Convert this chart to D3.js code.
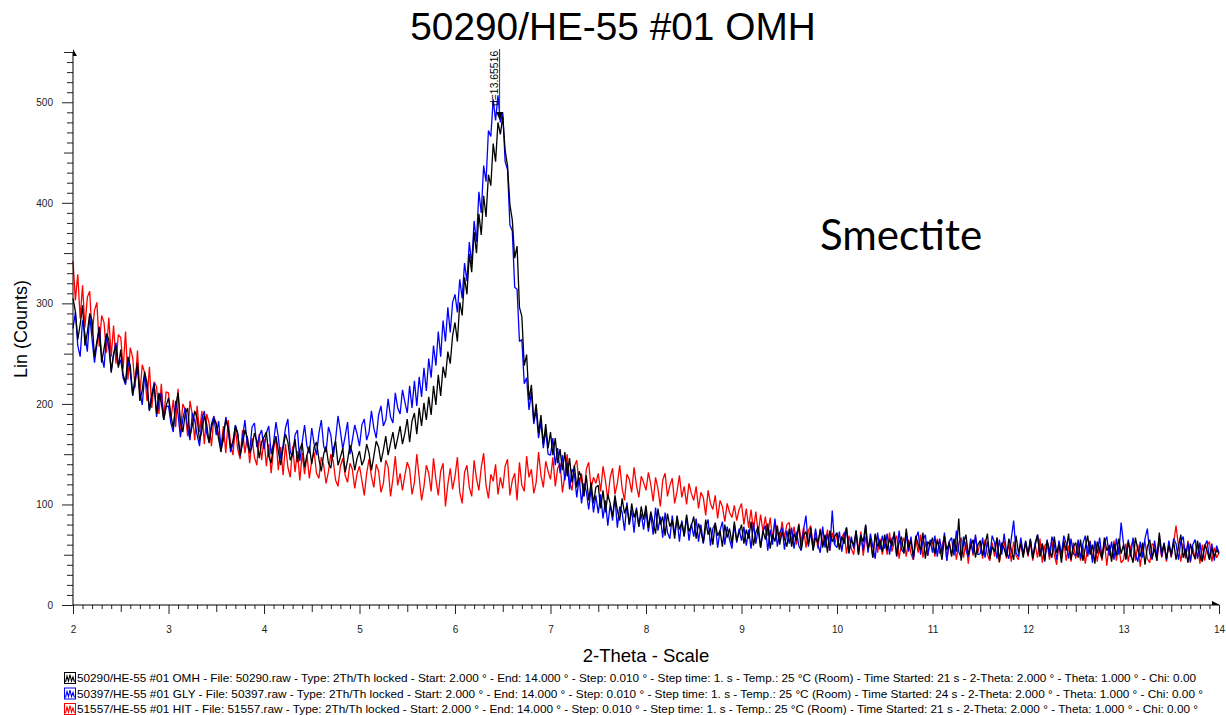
<!DOCTYPE html>
<html><head><meta charset="utf-8">
<script src="https://cdn.jsdelivr.net/npm/d3@7"></script>
<style>body{margin:0;background:#fff}svg{display:block}</style>
</head><body><svg id="c" width="1226" height="715"></svg>
<script>
const chartTitle = "50290/HE-55 #01 OMH";
const xAxisTitle = "2-Theta - Scale";
const yAxisTitle = "Lin (Counts)";
const annotationText = "Smectite";
const xStart = 2, xStep = 0.025;
const seriesColors = ["#000000", "#0000ff", "#ff0000"];

const blackOMH = [
305,292,264,279,298,258,271,290,283,247,262,276,241,255,270,264,231,249,258,236,
254,229,221,247,238,209,226,241,203,214,232,221,193,207,219,190,211,201,184,198,
206,189,176,198,211,183,172,190,196,168,179,193,186,163,174,188,180,161,177,185,
180,165,152,171,184,176,156,163,178,170,149,160,174,167,151,158,171,163,146,162,
167,172,148,141,159,168,153,139,156,170,162,144,150,165,142,155,161,137,149,158,
140,157,162,145,133,150,158,141,136,155,163,139,147,156,132,144,159,151,134,146,
153,139,145,160,151,134,148,163,157,142,154,168,149,161,172,155,166,178,160,171,
185,162,183,191,170,196,178,201,184,207,189,218,199,229,208,237,226,252,240,268,
281,262,301,288,326,309,349,331,371,350,389,368,407,386,428,417,459,441,480,468,
486,452,437,398,383,345,357,296,287,238,249,204,219,183,200,171,189,160,180,156,
172,149,166,141,155,134,152,128,146,122,139,117,133,126,108,129,104,122,101,117,
119,96,114,92,110,101,88,109,94,84,106,91,99,80,101,87,95,78,98,85,
99,77,93,82,71,96,80,88,69,91,78,84,66,89,75,82,68,90,73,79,
88,66,81,73,62,85,70,77,60,82,69,74,58,80,67,76,61,83,64,72,
80,61,75,66,83,59,72,78,57,74,65,81,56,70,63,79,60,73,66,58,
76,58,71,64,80,55,69,73,60,77,54,67,62,75,57,70,52,74,63,68,
72,55,68,61,77,52,65,59,74,50,69,63,80,56,66,47,71,58,64,53,
70,54,66,58,73,49,62,68,51,76,57,64,48,69,60,55,72,46,63,59,
67,51,64,57,45,69,55,62,48,66,53,86,44,61,70,50,58,65,47,60,
64,49,60,71,46,58,53,67,43,62,56,48,66,55,45,69,52,61,47,63,
50,65,46,59,70,48,61,44,64,55,47,68,52,60,42,63,54,71,45,58,
62,47,65,44,57,69,50,60,41,63,53,46,67,54,59,43,61,49,66,51,
60,45,63,51,42,67,55,48,62,40,58,65,47,56,44,72,52,61,46,59,
50,63,45,58,70,47,56,42,61,52,46,64,49,43,60,54,45,57,48,55,
51];

const blueGLY = [
275,291,258,247,283,270,252,288,264,241,259,277,248,236,268,256,233,250,261,238,
244,226,219,243,231,208,222,236,212,199,228,216,194,210,221,187,203,211,184,197,
198,181,172,203,190,167,185,196,176,164,191,183,169,158,184,193,171,162,180,188,
169,183,155,164,187,176,152,160,179,171,148,166,184,159,153,177,181,157,168,174,
155,171,178,150,161,182,167,145,159,176,185,152,148,169,174,143,162,179,158,151,
176,160,149,171,184,158,152,177,169,147,165,188,173,155,168,182,150,164,179,170,
158,179,185,164,172,193,176,166,189,198,178,184,205,187,181,211,196,190,214,202,
191,218,196,223,198,227,207,236,213,245,226,258,238,272,247,283,262,296,271,301,
309,291,324,305,340,322,361,339,382,361,411,390,437,421,472,466,503,482,507,480,
490,441,433,378,372,316,314,262,264,220,226,194,212,180,194,166,182,156,174,150,
149,166,139,156,131,149,124,142,115,135,130,107,127,101,121,113,95,116,92,109,
91,110,86,104,79,100,84,107,77,98,92,74,102,80,95,72,97,78,91,75,
94,73,90,70,97,74,88,67,92,72,66,89,70,86,63,84,69,88,64,81,
68,86,63,80,61,77,85,59,76,81,57,74,83,60,78,65,56,80,62,76,
64,78,59,75,56,82,61,76,57,73,79,54,75,60,86,58,72,77,55,74,
61,77,56,73,59,54,75,89,58,72,55,76,60,52,78,57,71,54,94,60,
57,73,53,70,77,51,68,56,74,50,70,54,79,52,71,58,46,72,55,69,
56,71,50,66,69,48,74,55,52,70,53,68,45,66,73,50,64,70,49,65,
52,69,48,66,51,72,44,63,67,49,74,53,47,68,55,48,66,51,70,50,
51,67,47,63,49,69,62,46,65,50,71,53,46,66,84,52,48,67,50,64,
50,66,47,62,70,49,61,43,65,48,68,60,45,64,50,69,61,46,66,51,
49,65,46,61,69,48,63,42,64,51,67,47,62,68,49,63,45,66,50,82,
61,46,65,48,67,50,43,63,47,66,76,51,45,64,49,68,48,62,45,64,
48,66,61,45,63,68,47,62,43,60,65,46,62,44,59,64,46,61,44,59,
52];

const redHIT = [
342,303,329,285,318,276,306,312,268,293,301,257,288,281,251,286,247,278,240,269,
266,235,272,224,256,246,216,253,210,239,231,203,237,196,222,217,190,220,186,212,
211,184,204,177,215,173,200,194,168,203,189,164,198,172,193,160,190,181,158,187,
181,169,158,178,151,184,160,149,176,155,145,174,151,168,141,166,147,139,170,144,
165,138,160,131,155,166,134,157,129,160,137,127,158,132,153,124,151,130,149,126,
144,152,131,126,147,139,121,133,150,143,124,118,138,146,129,122,141,135,116,131,
138,124,109,131,145,128,117,140,133,112,121,144,137,108,126,148,119,131,114,129,
142,135,110,122,150,127,104,118,139,131,113,146,125,109,133,141,98,120,136,115,
128,147,112,101,132,139,117,108,144,126,114,137,151,119,106,130,123,140,110,127,
116,138,145,109,124,131,104,142,119,113,148,127,135,111,122,152,129,117,143,133,
125,147,118,136,141,112,129,150,123,114,138,144,119,131,108,135,142,116,127,121,
131,113,138,124,105,127,136,110,121,139,116,104,130,125,112,137,119,107,128,122,
114,132,120,103,127,116,98,124,131,108,119,126,101,113,129,107,118,100,121,111,
104,118,96,112,107,89,114,101,95,109,86,104,98,83,101,92,87,99,84,95,
101,80,96,77,95,74,93,71,90,73,88,69,87,66,84,72,64,83,67,80,
82,63,78,60,81,62,77,57,74,79,58,73,56,76,61,59,75,54,72,60,
70,57,67,72,51,69,56,50,71,54,73,49,68,55,64,47,70,52,66,50,
66,50,72,53,63,69,46,61,67,48,65,51,45,66,52,70,47,63,49,62,
62,48,66,51,59,68,44,63,50,65,45,61,67,47,63,41,64,49,68,52,
63,46,65,50,44,62,48,67,42,60,64,46,61,43,63,49,45,64,50,61,
48,63,44,60,47,66,42,59,62,45,64,50,40,61,46,65,44,59,43,62,
46,62,44,59,41,58,64,45,61,43,59,44,63,39,60,47,64,44,58,42,
45,61,43,58,64,44,60,38,57,63,46,42,61,59,44,65,47,60,43,62,
47,62,79,59,43,61,46,64,42,58,45,61,41,60,44,59,63,43,57,47,
52];

const yTickValues = [0, 100, 200, 300, 400, 500];
const xTickValues = [2, 3, 4, 5, 6, 7, 8, 9, 10, 11, 12, 13, 14];
const peakTwoTheta = 6.467;
const peakLabel = "d=13.65516";
const legendLabels = [
"50290/HE-55 #01 OMH - File: 50290.raw - Type: 2Th/Th locked - Start: 2.000 ° - End: 14.000 ° - Step: 0.010 ° - Step time: 1. s - Temp.: 25 °C (Room) - Time Started: 21 s - 2-Theta: 2.000 ° - Theta: 1.000 ° - Chi: 0.00",
"50397/HE-55 #01 GLY - File: 50397.raw - Type: 2Th/Th locked - Start: 2.000 ° - End: 14.000 ° - Step: 0.010 ° - Step time: 1. s - Temp.: 25 °C (Room) - Time Started: 24 s - 2-Theta: 2.000 ° - Theta: 1.000 ° - Chi: 0.00 °",
"51557/HE-55 #01 HIT - File: 51557.raw - Type: 2Th/Th locked - Start: 2.000 ° - End: 14.000 ° - Step: 0.010 ° - Step time: 1. s - Temp.: 25 °C (Room) - Time Started: 21 s - 2-Theta: 2.000 ° - Theta: 1.000 ° - Chi: 0.00 °"
];
const legendTextWidths = [1119, 1126, 1121];

const FONT = "'Liberation Sans', Arial, sans-serif";
const svg = d3.select("#c");
const x = d3.scaleLinear().domain([2, 14]).range([73, 1219]);
const y = d3.scaleLinear().domain([0, 550]).range([605, 52]);

// title
svg.append("text").attr("x", 613).attr("y", 40).attr("text-anchor", "middle")
  .attr("font-family", FONT).attr("font-size", 38.8).attr("fill", "#000").text(chartTitle);

// series
const line = d3.line().x((d, i) => x(xStart + i * xStep)).y(d => y(d));
const drawOrder = [[redHIT, seriesColors[2]], [blueGLY, seriesColors[1]], [blackOMH, seriesColors[0]]];
drawOrder.forEach(([vals, col]) => {
  svg.append("path").datum(vals).attr("d", line).attr("fill", "none")
    .attr("stroke", col).attr("stroke-width", 1.3).attr("stroke-linejoin", "bevel");
});

// y axis
function styleAxis(g) {
  g.selectAll(".tick line").attr("stroke", "#222");
  g.select(".domain").remove();
  g.selectAll("text").attr("font-family", FONT).attr("font-size", 10).attr("fill", "#222");
}
const yMinor = d3.range(0, 551, 10).filter(v => v % 50 !== 0);
const yMid = d3.range(50, 551, 100);
svg.append("g").attr("transform", "translate(73,0)")
  .call(d3.axisLeft(y).tickValues(yMinor).tickSize(6).tickFormat("")).call(styleAxis);
svg.append("g").attr("transform", "translate(73,0)")
  .call(d3.axisLeft(y).tickValues(yMid).tickSize(9).tickFormat("")).call(styleAxis);
svg.append("g").attr("transform", "translate(73,0)")
  .call(d3.axisLeft(y).tickValues(yTickValues).tickSize(11).tickPadding(9).tickFormat(d3.format("d"))).call(styleAxis);

// x axis
const xMinor = d3.range(20, 141, 1).filter(v => v % 5 !== 0).map(v => v / 10);
const xMid = d3.range(25, 140, 10).map(v => v / 10);
svg.append("g").attr("transform", "translate(0,605)")
  .call(d3.axisBottom(x).tickValues(xMinor).tickSize(4).tickFormat("")).call(styleAxis);
svg.append("g").attr("transform", "translate(0,605)")
  .call(d3.axisBottom(x).tickValues(xMid).tickSize(7).tickFormat("")).call(styleAxis);
svg.append("g").attr("transform", "translate(0,605)")
  .call(d3.axisBottom(x).tickValues(xTickValues).tickSize(9).tickPadding(12).tickFormat(d3.format("d"))).call(styleAxis);

// axis lines + arrows
svg.append("line").attr("x1", x(2)).attr("x2", x(2)).attr("y1", y(0)).attr("y2", y(550)).attr("stroke", "#000");
svg.append("line").attr("x1", x(2)).attr("x2", x(14)).attr("y1", y(0)).attr("y2", y(0)).attr("stroke", "#000");
svg.append("path").attr("d", `M${x(2)},${y(550)-3} L${x(2)+4},${y(550)+4} L${x(2)},${y(550)+4}Z`).attr("fill", "#000");
svg.append("path").attr("d", `M${x(14)-7},${y(0)-4} L${x(14)+1},${y(0)} L${x(14)-7},${y(0)}Z`).attr("fill", "#000");

// axis titles
svg.append("text").attr("x", 646).attr("y", 662).attr("text-anchor", "middle")
  .attr("font-family", FONT).attr("font-size", 18.5).attr("fill", "#000").text(xAxisTitle);
svg.append("text").attr("transform", "translate(27,329) rotate(-90)").attr("text-anchor", "middle")
  .attr("font-family", FONT).attr("font-size", 18).attr("fill", "#000").text(yAxisTitle);

// annotation
svg.append("text").attr("x", 820).attr("y", 250)
  .attr("font-family", "Lato, 'Open Sans', sans-serif").attr("font-size", 42).attr("fill", "#000").text(annotationText);

// peak marker
const px = x(peakTwoTheta);
svg.append("line").attr("x1", px).attr("x2", px).attr("y1", 49).attr("y2", 116).attr("stroke", "#333").attr("stroke-width", 1);
svg.append("path").attr("d", `M${px-3.5},${112} L${px+3.5},${112} L${px},${120}Z`).attr("fill", "#000");
svg.append("text").attr("transform", `translate(${px-2},106) rotate(-90)`)
  .attr("font-family", FONT).attr("font-size", 10.4).attr("fill", "#000").text(peakLabel);

// legend
const legendY = [678, 693.5, 709];
legendLabels.forEach((lab, i) => {
  const cy = legendY[i], col = seriesColors[i];
  const g = svg.append("g").attr("transform", `translate(64,${cy - 6})`);
  g.append("rect").attr("x", 0.5).attr("y", 0.5).attr("width", 11).attr("height", 11)
    .attr("fill", "#fff").attr("stroke", col).attr("stroke-width", 1);
  g.append("path").attr("d", "M1.5,10 L3,4 L4.5,9 L6,2.5 L7.5,9 L9,5 L10.5,10")
    .attr("fill", "none").attr("stroke", col).attr("stroke-width", 1.1);
  svg.append("text").attr("x", 77).attr("y", cy + 4)
    .attr("font-family", FONT).attr("font-size", 11.6).attr("fill", "#000")
    .attr("textLength", legendTextWidths[i]).attr("lengthAdjust", "spacingAndGlyphs").text(lab);
});
</script></body></html>
